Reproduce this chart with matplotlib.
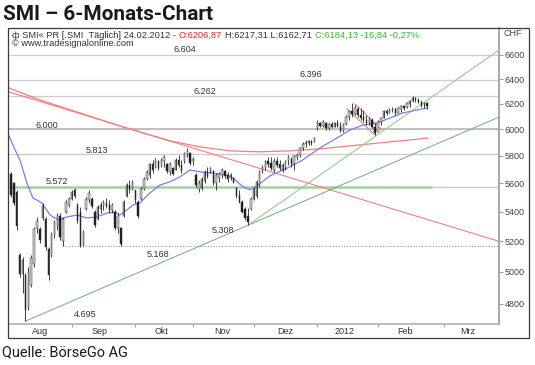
import matplotlib
matplotlib.use("Agg")
import matplotlib.pyplot as plt
from matplotlib import font_manager
from matplotlib.patches import Rectangle
from matplotlib.ticker import FixedLocator, FixedFormatter, NullLocator

W, H, DPI = 535, 365, 100

# ---------------- data ----------------
opens = [5670, 5600, 5540, 5110, 4990, 4980, 4780, 4920, 5050, 5290,
         5280, 5360, 5350, 5150, 5110, 5240, 5300, 5370, 5200, 5400,
         5450, 5490, 5550, 5450, 5400, 5175, 5420, 5480, 5490, 5400,
         5350, 5420, 5440, 5460, 5450, 5410, 5400, 5290, 5290, 5370,
         5510, 5590, 5560, 5550, 5470, 5490, 5560, 5630, 5660, 5740,
         5720, 5760, 5730, 5760, 5740, 5680, 5710, 5700, 5770, 5730,
         5760, 5810, 5820, 5760, 5660, 5560, 5570, 5620, 5680, 5690,
         5690, 5600, 5640, 5660, 5690, 5660, 5640, 5640, 5570, 5520,
         5470, 5420, 5370, 5420, 5490, 5510, 5590, 5690, 5710, 5760,
         5750, 5700, 5760, 5740, 5700, 5720, 5760, 5780, 5740, 5790,
         5810, 5860, 5890, 5900, 5910, 5910, 6010, 6050, 6030, 6050,
         6010, 6040, 6020, 6050, 6030, 5990, 6040, 6100, 6140, 6120,
         6160, 6110, 6100, 6070, 6050, 6070, 6020, 5980, 6060, 6090,
         6140, 6130, 6150, 6160, 6130, 6160, 6180, 6175, 6200, 6220,
         6245, 6230, 6215, 6195, 6206.87]
highs = [5683, 5611, 5554, 5123, 5097, 4993, 5032, 5110, 5297, 5365,
         5297, 5462, 5365, 5163, 5263, 5345, 5392, 5392, 5365, 5483,
         5504, 5554, 5568, 5462, 5434, 5277, 5504, 5554, 5504, 5413,
         5448, 5469, 5483, 5497, 5483, 5462, 5413, 5392, 5297, 5483,
         5603, 5625, 5625, 5554, 5483, 5575, 5647, 5697, 5750, 5771,
         5786, 5771, 5786, 5808, 5750, 5757, 5720, 5786, 5808, 5771,
         5831, 5860, 5831, 5793, 5675, 5625, 5647, 5697, 5720, 5720,
         5697, 5675, 5683, 5712, 5697, 5683, 5675, 5647, 5575, 5554,
         5483, 5434, 5427, 5504, 5575, 5625, 5697, 5735, 5771, 5793,
         5793, 5786, 5793, 5771, 5750, 5771, 5808, 5793, 5808, 5823,
         5868, 5905, 5920, 5920, 5920, 5943, 6073, 6057, 6073, 6057,
         6049, 6057, 6057, 6073, 6057, 6049, 6112, 6152, 6207, 6191,
         6175, 6167, 6152, 6112, 6096, 6088, 6049, 6073, 6096, 6152,
         6159, 6167, 6175, 6167, 6175, 6191, 6191, 6215, 6231, 6263,
         6255, 6247, 6231, 6215, 6217.31]
lows = [5504, 5448, 5277, 4968, 4868, 4695, 4763, 4905, 5032, 5257,
        5190, 5345, 5143, 4950, 5097, 5223, 5277, 5210, 5168, 5392,
        5434, 5483, 5497, 5324, 5165, 5170, 5413, 5462, 5427, 5297,
        5345, 5392, 5413, 5427, 5392, 5392, 5277, 5257, 5170, 5365,
        5504, 5532, 5554, 5462, 5358, 5483, 5554, 5625, 5640, 5675,
        5712, 5697, 5720, 5720, 5675, 5661, 5661, 5697, 5720, 5675,
        5750, 5793, 5735, 5735, 5575, 5540, 5554, 5603, 5640, 5675,
        5589, 5554, 5611, 5640, 5640, 5611, 5625, 5603, 5497, 5462,
        5392, 5345, 5308, 5413, 5483, 5497, 5575, 5675, 5697, 5720,
        5697, 5683, 5720, 5697, 5683, 5697, 5735, 5720, 5697, 5771,
        5793, 5846, 5868, 5882, 5882, 5905, 5996, 6018, 6018, 5996,
        5996, 6010, 6018, 6018, 5981, 5981, 6034, 6073, 6096, 6112,
        6096, 6073, 6057, 6034, 6034, 6010, 5958, 5996, 6034, 6088,
        6112, 6128, 6136, 6112, 6128, 6136, 6152, 6167, 6175, 6215,
        6215, 6207, 6175, 6167, 6162.71]
closes = [5520, 5460, 5300, 4990, 5080, 4760, 5000, 5090, 5280, 5340,
          5210, 5440, 5160, 4980, 5250, 5330, 5380, 5230, 5350, 5470,
          5490, 5540, 5510, 5340, 5170, 5260, 5490, 5530, 5440, 5310,
          5430, 5450, 5470, 5440, 5410, 5450, 5290, 5370, 5180, 5470,
          5590, 5550, 5610, 5480, 5370, 5560, 5630, 5680, 5740, 5700,
          5770, 5710, 5770, 5790, 5690, 5740, 5670, 5770, 5730, 5690,
          5820, 5840, 5750, 5780, 5590, 5600, 5630, 5680, 5650, 5710,
          5600, 5660, 5670, 5700, 5650, 5630, 5660, 5610, 5510, 5470,
          5400, 5360, 5330, 5490, 5560, 5610, 5690, 5720, 5760, 5740,
          5710, 5760, 5730, 5710, 5730, 5760, 5790, 5740, 5800, 5810,
          5860, 5890, 5900, 5910, 5895, 5936, 6060, 6030, 6060, 6010,
          6040, 6020, 6050, 6030, 5990, 6040, 6100, 6140, 6120, 6170,
          6110, 6090, 6070, 6050, 6080, 6020, 5970, 6060, 6090, 6140,
          6130, 6150, 6160, 6130, 6165, 6180, 6170, 6205, 6220, 6245,
          6230, 6215, 6190, 6201, 6184.13]

# fast moving average (blue), read at sample positions (trading-day index)
ma_fast_x = [-0.7, 1.4, 3.1, 5.5, 7.6, 10.7, 13.5, 16.3, 19.4, 22.8, 26.3, 29.8,
             33.2, 36, 37.7, 40.1, 42.2, 44.6, 48.1, 51.6, 55, 58.5, 61.9, 65.4,
             69.9, 74.7, 76.8, 80.3, 82.7, 85.5, 89.6, 96.5, 101, 106.9, 112.8,
             117.3, 121.8, 126.6, 131.1, 135.6, 140.5, 144]
ma_fast = [5951, 5846, 5771, 5603, 5497, 5462, 5378, 5345, 5365, 5378, 5358, 5365,
           5392, 5399, 5378, 5413, 5448, 5462, 5532, 5589, 5611, 5647, 5697, 5683,
           5675, 5661, 5640, 5575, 5554, 5589, 5654, 5720, 5771, 5860, 5935,
           5996, 6034, 6049, 6088, 6128, 6152, 6167]
# slow moving average (red curve)
ma_slow_x = [-0.7, 10, 23.9, 37.7, 45.7, 55, 65.4, 75.8, 86.2, 96.5, 106.9, 117.3,
             127.7, 138.1, 144.3]
ma_slow = [6327, 6231, 6128, 6026, 5973, 5913, 5868, 5838, 5831, 5838, 5853, 5875,
           5898, 5920, 5935]

# trend lines (start/end index, start/end price)
trend_red_x, trend_red_y = [-0.69, 168.9], [6295, 5200]
trend_green1_x, trend_green1_y = [5, 168.9], [4695, 6096]
trend_green2_x, trend_green2_y = [82, 168.9], [5308, 6642]
flag1_x, flag1_y = [116.3, 126], [6160, 5958]
flag2_x, flag2_y = [119, 128.4], [6199, 5996]

# horizontal levels
levels = [6604, 6396, 6262, 6000, 5813, 5572]
green_level, green_level_end = 5572, 145.7
dotted_level, dotted_level_start = 5168, 18

# level annotations: text, x index, price
ann_text = ["6.604", "6.396", "6.262", "6.000", "5.813", "5.572", "5.308", "5.168", "4.695"]
ann_x = [60.2, 103.8, 67.1, 12.5, 29.8, 15.9, 73.4, 50.9, 25.6]
ann_y = [6604, 6396, 6262, 6000, 5813, 5572, 5308, 5168, 4695]
ann_dy_px = [-5, -5, -5, -4, -4, -6, 5, 8, -7]

y_ticks = [4800, 5000, 5200, 5400, 5600, 5800, 6000, 6200, 6400, 6600]
month_ticks = [21, 43, 63, 84, 106, 127, 150]
month_label_x = [10, 30.5, 52, 73, 95, 115.5, 136.5, 158]
month_labels = ["Aug", "Sep", "Okt", "Nov", "Dez", "2012", "Feb", "Mrz"]

# ---------------- fonts ----------------
avail = {f.name for f in font_manager.fontManager.ttflist}
NARROW = "Liberation Sans Narrow" if "Liberation Sans Narrow" in avail else "Roboto"
SMALL = "Liberation Sans"

def fx(px):
    return px / W

def fy(py):
    return 1 - py / H

fig = plt.figure(figsize=(W / DPI, H / DPI), dpi=DPI)
fig.patch.set_facecolor("white")
renderer = fig.canvas.get_renderer()

ax = fig.add_axes([fx(9), fy(324), fx(499) - fx(9), fy(28) - fy(324)])
ax.set_yscale("log")
ax.set_xlim(-0.69, 168.9)
ax.set_ylim(4678, 6832)

# horizontal level lines
for lv in levels:
    ax.axhline(lv, color="#cdcdcd", lw=1.0, zorder=1)
ax.axhline(6000, color="#c0c0c0", lw=1.4, zorder=1)
ax.hlines(green_level, -0.69, green_level_end, color="#a3d3a3", lw=1.8, zorder=2)
ax.hlines(dotted_level, dotted_level_start, 168.9, color="#9a9a9a", lw=0.8,
          linestyles=(0, (1, 1.5)), zorder=1)

# trend lines
ax.plot(trend_red_x, trend_red_y, color="#f27f7f", lw=0.8, zorder=3)
ax.plot(ma_slow_x, ma_slow, color="#f27f7f", lw=0.9, zorder=3)
ax.plot(trend_green1_x, trend_green1_y, color="#6cb36c", lw=0.7, zorder=3)
ax.plot(trend_green2_x, trend_green2_y, color="#93cc93", lw=0.8, zorder=3)
ax.plot(flag1_x, flag1_y, color="#f27f7f", lw=0.8, zorder=3)
ax.plot(flag2_x, flag2_y, color="#f27f7f", lw=0.8, zorder=3)
ax.plot(ma_fast_x, ma_fast, color="#7c7cf2", lw=0.9, zorder=4)

# candlesticks
xs = list(range(len(closes)))
ax.vlines(xs, lows, highs, color="#222222", lw=0.6, zorder=5)
bottoms = [min(o, c) for o, c in zip(opens, closes)]
heights = [max(abs(c - o), 1.0) for o, c in zip(opens, closes)]
faces = ["#d8d8d8" if c >= o else "#1a1a1a" for o, c in zip(opens, closes)]
ax.bar(xs, heights, bottom=bottoms, width=0.5, color=faces, edgecolor="#333333",
       linewidth=0.35, zorder=6)

# level annotations
for t, xv, yv, dy in zip(ann_text, ann_x, ann_y, ann_dy_px):
    ax.annotate(t, (xv, yv), xytext=(0, -dy * 72 / DPI), textcoords="offset points",
                ha="center", va="center", fontsize=6.5, family=SMALL, color="#333333",
                zorder=7)

# axes styling
for s in ("top", "left"):
    ax.spines[s].set_visible(False)
ax.spines["right"].set_color("#a0a0a0")
ax.spines["right"].set_linewidth(1.3)
ax.spines["bottom"].set_color("#b0b0b0")
ax.spines["bottom"].set_linewidth(1.2)

ax.yaxis.tick_right()
ax.yaxis.set_major_locator(FixedLocator(y_ticks))
ax.yaxis.set_major_formatter(FixedFormatter([str(v) for v in y_ticks]))
ax.yaxis.set_minor_locator(NullLocator())
ax.tick_params(axis="y", which="major", direction="out", length=3, width=0.6,
               color="#888888", pad=1, labelsize=6.5, labelcolor="#444444")
for lab in ax.get_yticklabels():
    lab.set_family(SMALL)

ax.xaxis.set_major_locator(FixedLocator(month_ticks))
ax.xaxis.set_major_formatter(FixedFormatter([""] * len(month_ticks)))
ax.xaxis.set_minor_locator(FixedLocator(month_label_x))
ax.xaxis.set_minor_formatter(FixedFormatter(month_labels))
ax.tick_params(axis="x", which="major", direction="out", length=2.5, width=0.6,
               color="#888888")
ax.tick_params(axis="x", which="minor", length=0, pad=2.2, labelsize=6.5,
               labelcolor="#333333")
for lab in ax.get_xticklabels(minor=True):
    lab.set_family(SMALL)

# outer frame
fig.patches.append(Rectangle((fx(8), fy(338)), fx(529) - fx(8), fy(28) - fy(338),
                             transform=fig.transFigure, fill=False,
                             edgecolor="#3a3a3a", lw=0.9))

# header texts inside the chart
def chain(x_px, y_px, parts, size):
    cur = fx(x_px)
    for s, col, gap in parts:
        t = fig.text(cur, fy(y_px), s, color=col, fontsize=size, family=SMALL,
                     va="center", ha="left")
        bb = t.get_window_extent(renderer)
        cur = fig.transFigure.inverted().transform((bb.x1 + gap, 0))[0]

chain(12, 35, [("ф SMI« PR [.SMI  Täglich] 24.02.2012 -", "#333333", 3),
               ("O:6206,87", "#e02a2a", 3),
               ("H:6217,31 L:6162,71", "#333333", 3),
               ("C:6184,13 -16,84 -0,27%", "#3cb43c", 0)], 6.7)
fig.text(fx(12), fy(44), "© www.tradesignalonline.com", fontsize=6.7, family=SMALL,
         color="#333333", va="center", ha="left")
fig.text(fx(503), fy(33), "CHF", fontsize=6.5, family=SMALL, color="#444444",
         va="center", ha="left")

# title and source
def fit_text(x_px, y_px, s, target_w, weight, size0):
    t = fig.text(fx(x_px), fy(y_px), s, fontsize=size0, family=NARROW, weight=weight,
                 va="center", ha="left", color="#1a1a1a")
    w = t.get_window_extent(renderer).width
    t.set_fontsize(size0 * target_w / w)
    return t

fit_text(3, 15, "SMI – 6-Monats-Chart", 210, "bold", 16)
fit_text(2, 352, "Quelle: BörseGo AG", 126, "normal", 10)

fig.savefig("out.png", dpi=DPI, facecolor="white")
